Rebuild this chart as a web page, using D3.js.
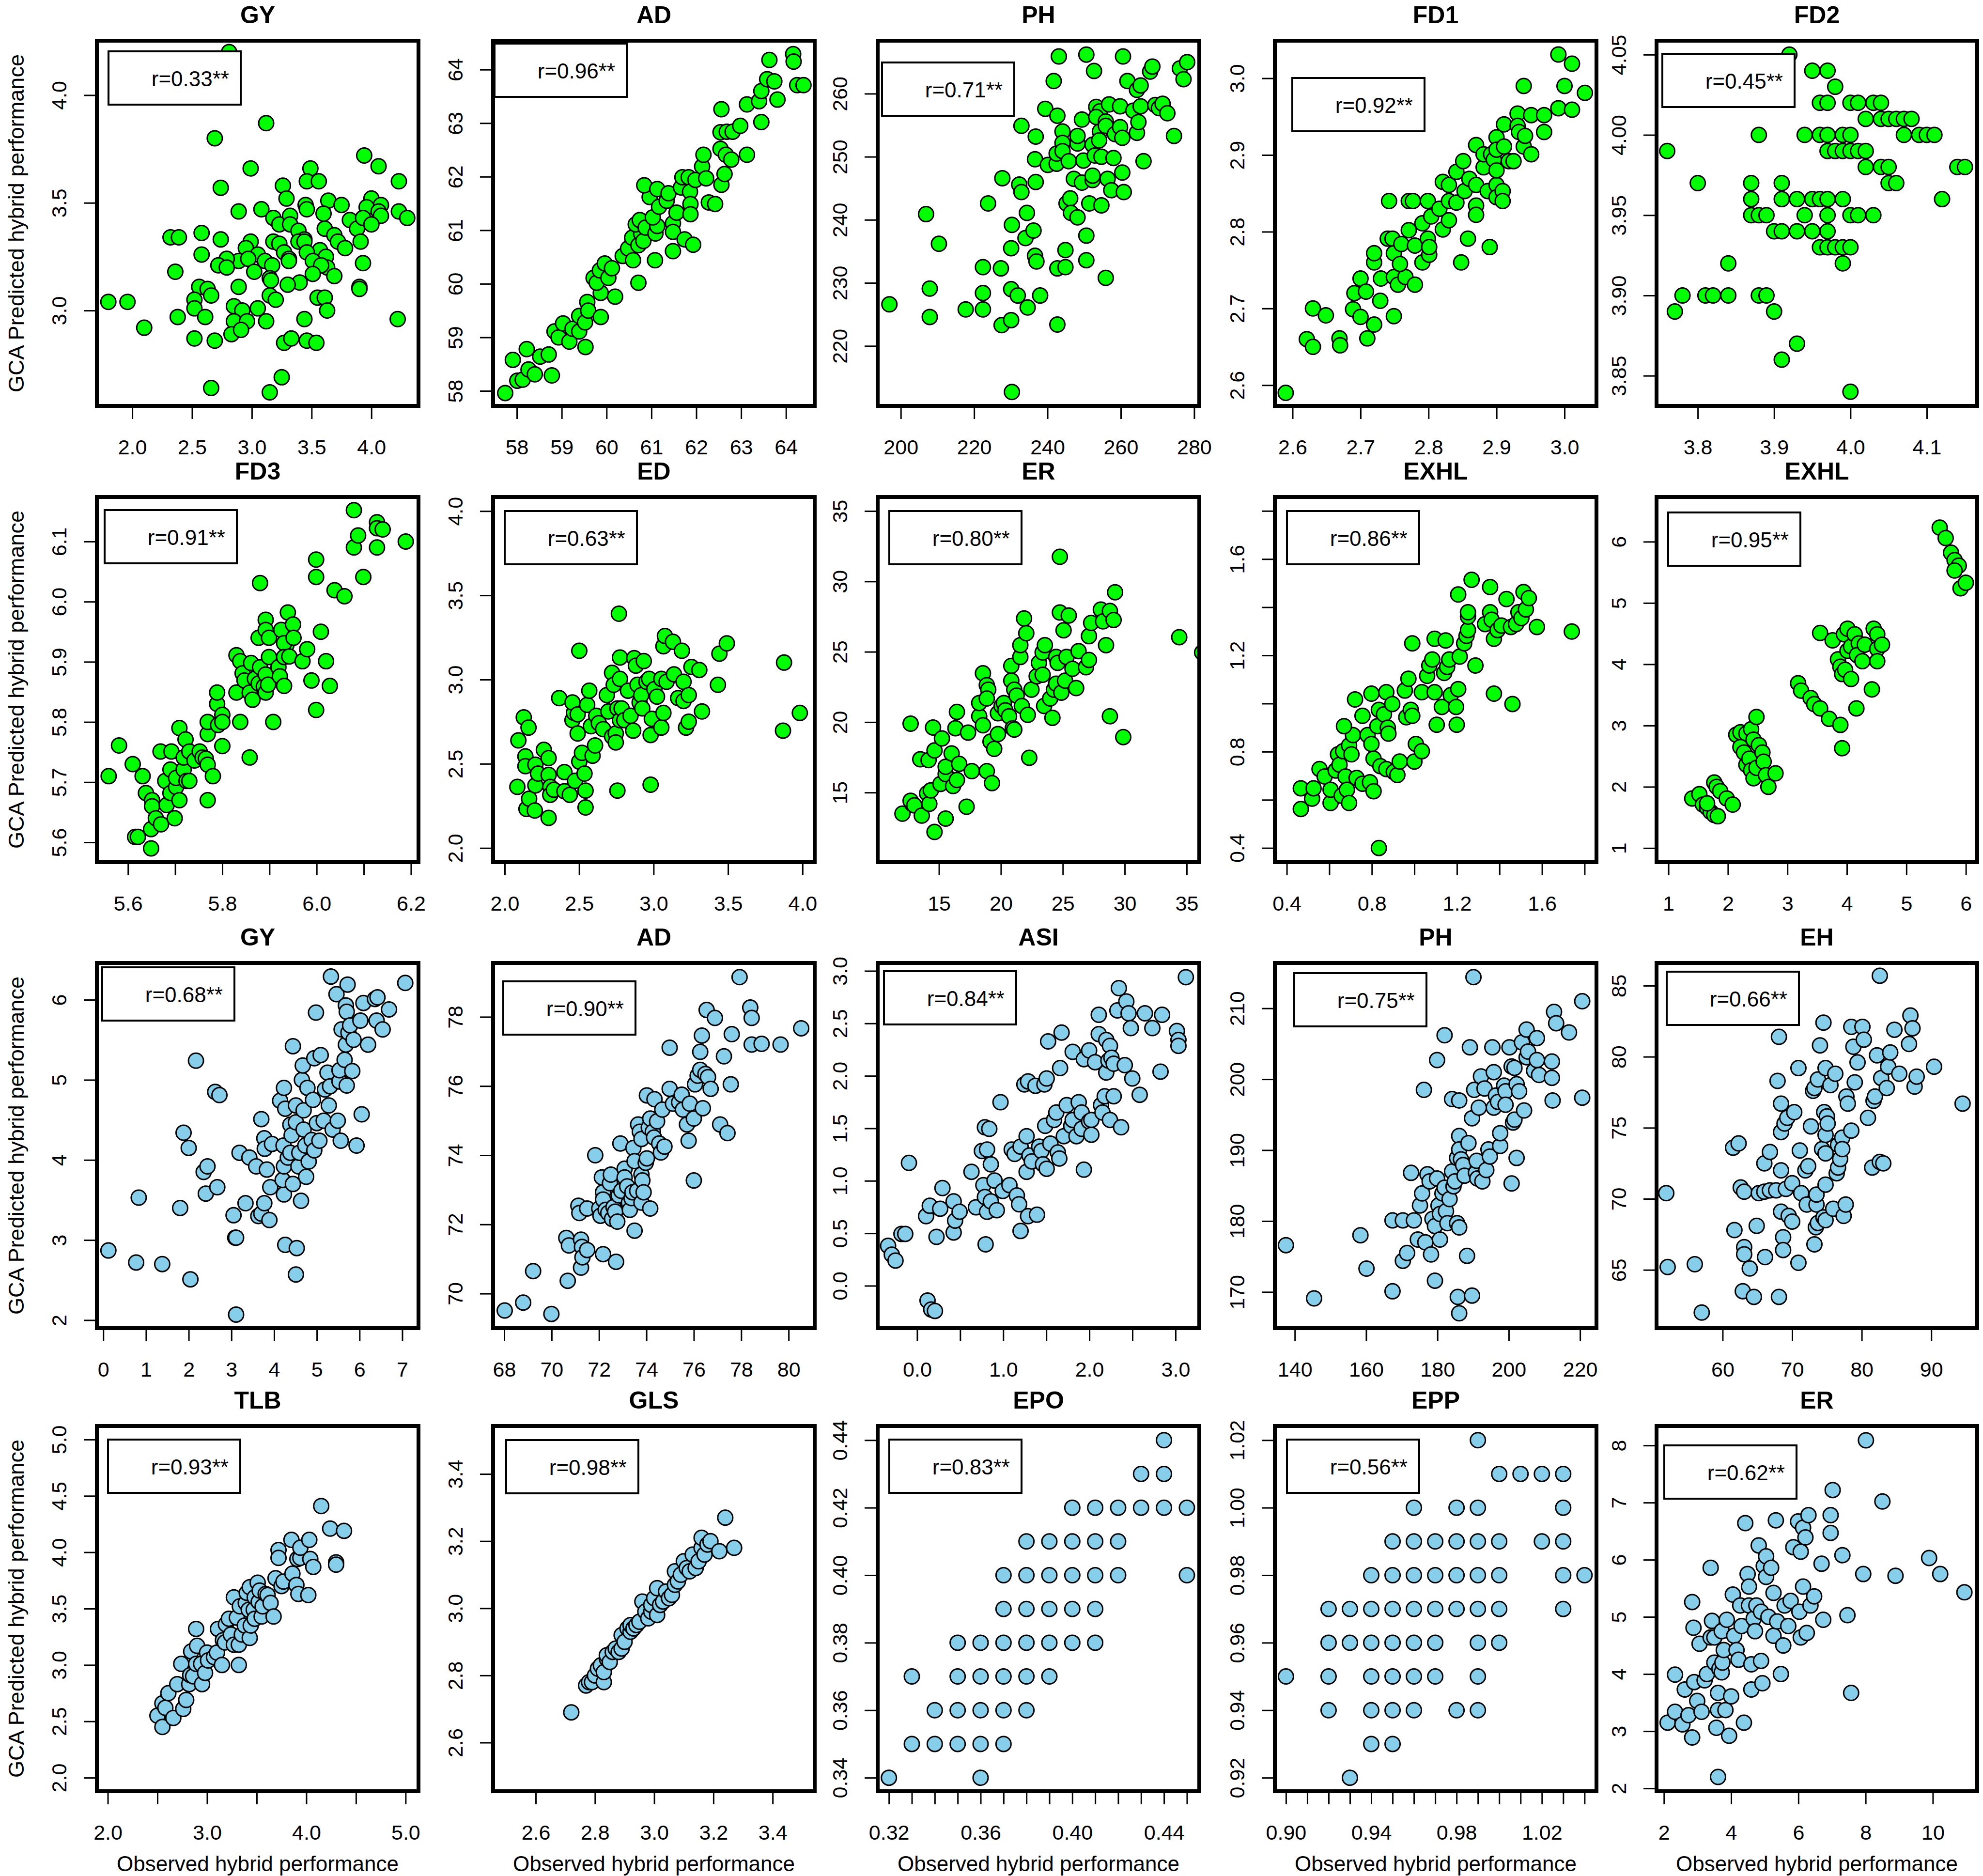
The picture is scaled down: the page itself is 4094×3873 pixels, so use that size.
<!DOCTYPE html>
<html>
<head>
<meta charset="utf-8">
<script src="https://cdn.jsdelivr.net/npm/d3@7"></script>
<style>
  html, body { margin: 0; padding: 0; background: #fff; }
  svg { display: block; font-family: "Liberation Sans", Arial, sans-serif; }
</style>
</head>
<body>
<svg id="chart" width="4094" height="3873"></svg>
<script>
// ---- data: [observed, GCA predicted] pairs, one array per panel ----
const ptsGY1 = [[2.81,4.20],[3.12,3.87],[2.69,3.80],[3.94,3.72],[4.06,3.67],[2.99,3.66],[3.49,3.66],[3.46,3.60],[3.56,3.60],[4.23,3.60],[2.74,3.57],[3.26,3.58],[3.29,3.52],[3.64,3.51],[3.75,3.49],[3.45,3.49],[3.46,3.47],[4.00,3.52],[4.08,3.49],[3.96,3.48],[4.06,3.46],[4.08,3.44],[4.23,3.46],[4.30,3.43],[2.89,3.46],[3.08,3.47],[3.60,3.45],[3.18,3.43],[3.23,3.40],[3.32,3.44],[3.32,3.40],[3.82,3.42],[3.88,3.38],[3.93,3.43],[4.00,3.40],[3.61,3.38],[3.39,3.37],[2.32,3.34],[2.39,3.34],[2.58,3.36],[2.74,3.33],[3.69,3.35],[3.72,3.32],[3.44,3.33],[3.39,3.32],[3.44,3.32],[3.18,3.32],[3.23,3.31],[3.91,3.32],[2.99,3.32],[3.78,3.29],[2.95,3.29],[3.27,3.27],[3.31,3.24],[3.57,3.28],[3.62,3.25],[3.46,3.27],[2.58,3.26],[3.05,3.26],[3.11,3.23],[2.89,3.23],[2.79,3.24],[2.72,3.21],[2.79,3.20],[2.97,3.24],[3.31,3.23],[3.51,3.23],[3.93,3.22],[3.17,3.21],[3.63,3.20],[3.58,3.21],[3.02,3.18],[2.36,3.18],[3.51,3.17],[3.69,3.16],[3.15,3.15],[3.16,3.14],[3.40,3.13],[3.30,3.12],[2.56,3.11],[2.89,3.11],[2.63,3.10],[2.66,3.07],[3.90,3.11],[3.90,3.10],[2.52,3.05],[2.52,3.01],[3.15,3.07],[3.20,3.05],[3.55,3.06],[3.61,3.06],[1.80,3.04],[1.96,3.04],[3.63,3.00],[3.05,3.01],[2.85,3.02],[2.92,3.00],[2.61,2.97],[2.38,2.97],[2.85,2.95],[2.96,2.95],[3.12,2.95],[3.44,2.96],[4.22,2.96],[2.10,2.92],[2.83,2.89],[2.91,2.91],[2.52,2.87],[2.69,2.86],[3.27,2.85],[3.33,2.87],[3.46,2.86],[3.54,2.85],[3.25,2.69],[2.66,2.64],[3.15,2.62]];
const ptsAD1 = [[57.74,57.96],[57.91,58.58],[58.01,58.19],[58.13,58.21],[58.22,58.78],[58.26,58.40],[58.40,58.31],[58.52,58.64],[58.71,58.68],[58.78,58.29],[58.84,59.11],[58.93,59.00],[59.03,59.26],[59.17,58.92],[59.24,59.16],[59.39,59.11],[59.39,59.40],[59.52,59.28],[59.53,58.82],[59.57,59.66],[59.59,59.50],[59.87,59.38],[59.87,59.83],[59.71,60.11],[59.78,60.02],[59.85,60.25],[59.96,60.38],[60.04,60.11],[60.12,60.29],[60.19,59.76],[60.36,60.52],[60.48,60.66],[60.59,60.44],[60.71,60.02],[60.57,60.86],[60.71,60.72],[60.77,60.94],[60.65,61.11],[60.82,60.80],[60.74,61.19],[60.87,61.05],[61.08,60.44],[61.09,60.94],[61.13,61.08],[61.03,61.24],[60.96,61.62],[60.84,61.84],[61.13,61.77],[61.17,61.44],[61.34,61.55],[61.38,61.69],[61.48,61.13],[61.48,60.97],[61.48,60.61],[61.56,61.33],[61.74,60.83],[61.66,61.80],[61.69,61.99],[61.83,61.99],[61.86,61.72],[61.87,61.49],[61.87,61.30],[61.93,60.73],[61.98,61.94],[62.13,62.19],[62.16,62.41],[62.22,61.97],[62.28,61.52],[62.42,61.49],[62.54,62.52],[62.56,61.85],[62.63,62.05],[62.66,62.41],[62.78,62.32],[62.54,62.83],[62.68,62.84],[62.81,62.84],[62.98,62.95],[63.13,62.41],[62.56,63.26],[63.13,63.35],[63.40,63.41],[63.45,63.60],[63.45,63.02],[63.58,63.82],[63.74,63.78],[63.81,63.44],[63.63,64.18],[64.16,64.29],[64.17,64.15],[64.25,63.71],[64.39,63.71]];
const ptsPH1 = [[196.9,226.6],[206.9,240.9],[207.9,229.1],[207.9,224.6],[210.4,236.2],[217.7,225.8],[222.4,225.8],[222.4,228.4],[222.4,232.5],[223.8,242.6],[227.3,232.3],[227.5,223.3],[227.7,246.6],[230.1,229.0],[230.1,224.1],[231.9,228.0],[230.1,235.5],[230.3,239.2],[230.3,212.7],[232.3,245.6],[232.9,244.4],[232.9,254.9],[234.6,226.1],[234.0,237.1],[234.4,241.1],[236.2,238.3],[236.6,234.3],[237.0,233.4],[236.8,253.2],[236.8,246.0],[236.6,249.6],[238.0,228.0],[239.4,257.6],[240.1,248.7],[241.7,262.0],[242.5,248.9],[242.5,250.5],[242.7,256.5],[242.7,232.3],[242.7,223.4],[243.1,265.9],[244.1,254.0],[244.1,252.2],[244.1,250.9],[244.9,235.2],[244.9,232.5],[245.2,242.6],[246.2,243.4],[246.4,241.1],[245.8,249.3],[247.2,246.5],[248.2,240.4],[248.2,252.1],[248.2,253.3],[249.4,255.9],[249.8,249.4],[249.4,245.9],[250.6,266.2],[250.6,237.5],[250.6,233.6],[251.4,242.6],[252.3,251.9],[252.9,250.2],[252.3,246.3],[252.3,247.0],[252.7,263.6],[253.3,257.9],[254.3,257.2],[253.3,256.3],[254.3,254.0],[254.1,252.6],[254.7,242.3],[254.7,250.0],[255.9,230.8],[255.9,255.6],[255.9,254.9],[256.4,246.5],[257.4,244.7],[256.8,258.3],[258.0,249.8],[258.4,253.6],[259.8,254.7],[260.4,253.0],[259.8,258.0],[260.6,265.9],[260.4,247.5],[260.8,244.4],[261.8,262.0],[263.4,257.3],[264.4,260.6],[264.4,253.8],[264.8,255.5],[265.4,261.3],[265.4,258.0],[266.2,249.3],[268.0,263.5],[268.6,264.3],[269.4,258.2],[270.4,257.7],[271.4,258.4],[272.7,256.9],[274.5,253.3],[276.1,264.0],[277.1,262.3],[278.1,265.0]];
const ptsFD1 = [[2.590,2.590],[2.621,2.660],[2.630,2.650],[2.630,2.700],[2.649,2.691],[2.669,2.661],[2.670,2.652],[2.689,2.699],[2.691,2.720],[2.700,2.739],[2.700,2.689],[2.708,2.722],[2.710,2.661],[2.720,2.679],[2.729,2.710],[2.730,2.739],[2.720,2.760],[2.720,2.772],[2.740,2.791],[2.747,2.791],[2.742,2.840],[2.771,2.840],[2.777,2.840],[2.749,2.690],[2.749,2.741],[2.755,2.731],[2.766,2.741],[2.780,2.731],[2.749,2.772],[2.758,2.758],[2.760,2.784],[2.771,2.802],[2.780,2.782],[2.791,2.760],[2.791,2.811],[2.799,2.791],[2.799,2.840],[2.804,2.820],[2.801,2.770],[2.801,2.780],[2.816,2.830],[2.821,2.803],[2.821,2.865],[2.830,2.840],[2.830,2.815],[2.830,2.861],[2.841,2.878],[2.841,2.838],[2.851,2.892],[2.848,2.760],[2.858,2.791],[2.853,2.853],[2.860,2.869],[2.870,2.913],[2.870,2.861],[2.870,2.834],[2.870,2.822],[2.881,2.884],[2.881,2.901],[2.887,2.853],[2.890,2.780],[2.892,2.901],[2.896,2.894],[2.900,2.861],[2.900,2.845],[2.900,2.923],[2.900,2.907],[2.900,2.880],[2.909,2.853],[2.909,2.840],[2.911,2.940],[2.911,2.911],[2.918,2.892],[2.925,2.892],[2.931,2.954],[2.931,2.938],[2.933,2.930],[2.940,2.911],[2.940,2.990],[2.942,2.925],[2.951,2.952],[2.951,2.901],[2.970,2.952],[2.970,2.930],[2.991,3.031],[2.991,2.961],[3.000,2.990],[3.011,3.019],[3.011,2.959],[3.030,2.981]];
const ptsFD2 = [[3.76,3.99],[3.77,3.89],[3.78,3.90],[3.80,3.97],[3.81,3.90],[3.82,3.90],[3.84,3.90],[3.84,3.92],[3.87,3.97],[3.87,3.96],[3.87,3.95],[3.88,3.95],[3.89,3.95],[3.88,4.00],[3.88,3.90],[3.89,3.90],[3.90,3.89],[3.90,3.94],[3.91,3.94],[3.91,3.97],[3.91,3.96],[3.92,4.05],[3.91,3.86],[3.93,3.87],[3.93,3.96],[3.95,3.96],[3.96,3.96],[3.97,3.96],[3.99,3.96],[3.93,3.94],[3.95,3.94],[3.97,3.94],[3.94,3.95],[3.97,3.95],[3.94,4.00],[3.96,4.00],[3.97,4.00],[3.99,4.00],[4.00,4.00],[3.95,4.04],[3.97,4.04],[3.98,4.03],[3.96,4.02],[3.97,4.02],[3.97,3.99],[3.98,3.99],[3.99,3.99],[4.00,3.99],[4.01,3.99],[4.02,3.99],[3.96,3.93],[3.97,3.93],[3.98,3.93],[3.99,3.93],[4.00,3.93],[3.99,3.92],[4.00,4.02],[4.01,4.02],[4.03,4.02],[4.04,4.02],[4.00,3.95],[4.01,3.95],[4.03,3.95],[4.00,3.84],[4.02,3.98],[4.04,3.98],[4.05,3.98],[4.02,4.01],[4.04,4.01],[4.05,4.01],[4.06,4.01],[4.07,4.01],[4.08,4.01],[4.05,3.97],[4.06,3.97],[4.07,4.00],[4.09,4.00],[4.10,4.00],[4.11,4.00],[4.12,3.96],[4.14,3.98],[4.15,3.98]];
const ptsFD3 = [[5.559,5.710],[5.581,5.761],[5.610,5.730],[5.631,5.710],[5.615,5.609],[5.621,5.609],[5.638,5.682],[5.649,5.622],[5.649,5.590],[5.651,5.670],[5.651,5.660],[5.659,5.640],[5.670,5.630],[5.669,5.751],[5.679,5.702],[5.682,5.662],[5.690,5.682],[5.690,5.721],[5.692,5.751],[5.699,5.640],[5.702,5.692],[5.702,5.707],[5.709,5.670],[5.709,5.790],[5.718,5.721],[5.718,5.741],[5.722,5.771],[5.730,5.751],[5.724,5.702],[5.730,5.702],[5.741,5.736],[5.752,5.751],[5.758,5.741],[5.765,5.739],[5.769,5.780],[5.769,5.800],[5.769,5.729],[5.769,5.670],[5.780,5.710],[5.789,5.830],[5.789,5.849],[5.791,5.795],[5.800,5.812],[5.800,5.800],[5.800,5.760],[5.830,5.849],[5.830,5.911],[5.838,5.800],[5.838,5.901],[5.843,5.881],[5.847,5.869],[5.858,5.741],[5.858,5.849],[5.864,5.837],[5.861,5.898],[5.869,5.872],[5.877,5.864],[5.877,5.940],[5.880,5.891],[5.880,6.031],[5.892,5.970],[5.892,5.953],[5.888,5.859],[5.892,5.849],[5.892,5.879],[5.897,5.862],[5.899,5.940],[5.899,5.908],[5.908,5.800],[5.919,5.891],[5.922,5.876],[5.925,5.953],[5.936,5.928],[5.931,5.931],[5.931,5.908],[5.931,5.860],[5.939,5.982],[5.942,5.909],[5.950,5.962],[5.951,5.940],[5.970,5.901],[5.980,5.921],[5.989,5.869],[5.999,5.820],[5.999,6.070],[5.999,6.041],[6.009,5.950],[6.020,5.901],[6.028,5.860],[6.038,6.019],[6.059,6.009],[6.079,6.152],[6.079,6.090],[6.088,6.110],[6.099,6.041],[6.128,6.132],[6.128,6.122],[6.140,6.120],[6.128,6.090],[6.189,6.100]];
const ptsED = [[2.092,2.639],[2.128,2.776],[2.160,2.715],[2.085,2.363],[2.139,2.544],[2.139,2.486],[2.146,2.232],[2.164,2.293],[2.202,2.223],[2.206,2.495],[2.206,2.372],[2.224,2.442],[2.263,2.583],[2.295,2.534],[2.295,2.434],[2.306,2.363],[2.306,2.316],[2.295,2.179],[2.330,2.346],[2.366,2.890],[2.401,2.451],[2.401,2.337],[2.437,2.316],[2.455,2.759],[2.465,2.803],[2.455,2.864],[2.472,2.399],[2.490,2.680],[2.490,2.794],[2.501,3.171],[2.501,2.513],[2.519,2.565],[2.536,2.442],[2.543,2.341],[2.543,2.241],[2.554,2.850],[2.568,2.934],[2.579,2.723],[2.590,2.548],[2.607,2.609],[2.615,2.785],[2.632,2.741],[2.661,2.706],[2.686,2.908],[2.696,2.811],[2.721,3.040],[2.732,2.969],[2.721,2.662],[2.746,2.680],[2.746,2.627],[2.757,2.829],[2.774,2.759],[2.767,3.391],[2.757,2.341],[2.774,3.131],[2.774,3.004],[2.785,2.829],[2.803,2.759],[2.828,2.934],[2.845,2.785],[2.863,2.697],[2.870,3.127],[2.881,3.083],[2.892,2.969],[2.906,2.864],[2.917,2.908],[2.924,2.829],[2.934,3.110],[2.952,2.987],[2.970,3.004],[2.988,2.767],[2.980,2.671],[2.980,2.376],[3.005,2.943],[3.023,2.899],[3.052,3.004],[3.052,2.715],[3.066,2.802],[3.066,3.198],[3.076,3.259],[3.087,2.987],[3.130,3.224],[3.137,3.031],[3.165,2.890],[3.201,2.873],[3.190,3.171],[3.201,2.987],[3.218,2.715],[3.236,2.750],[3.236,2.908],[3.254,3.075],[3.307,3.057],[3.325,2.811],[3.432,2.969],[3.442,3.154],[3.492,3.215],[3.876,3.101],[3.869,2.697],[3.982,2.802]];
const ptsER1 = [[12.05,13.50],[12.83,14.20],[12.71,14.41],[13.01,14.09],[12.71,19.89],[13.61,13.36],[13.49,17.36],[14.16,17.30],[14.04,14.94],[14.22,14.20],[14.34,15.15],[14.64,12.20],[14.52,19.62],[14.64,17.99],[15.12,15.61],[15.24,18.84],[15.54,13.15],[15.54,16.31],[15.54,16.83],[16.02,17.78],[16.14,15.46],[16.33,19.57],[16.45,20.73],[16.45,15.89],[16.63,17.04],[17.23,13.99],[17.35,19.26],[17.65,16.52],[18.25,20.42],[18.25,21.36],[18.55,19.78],[18.55,23.47],[18.86,16.52],[18.86,22.63],[18.98,22.31],[18.86,21.68],[19.16,18.62],[19.28,15.67],[19.46,18.10],[19.76,20.63],[20.06,21.15],[19.76,19.15],[20.24,21.36],[20.36,20.84],[20.66,20.42],[20.96,19.57],[20.84,24.00],[21.08,19.47],[20.84,22.95],[21.08,22.31],[21.27,21.89],[21.57,24.63],[21.57,25.47],[21.69,21.15],[21.87,27.37],[22.05,26.32],[22.17,20.52],[22.29,17.47],[22.47,22.31],[22.89,23.26],[23.07,24.21],[23.37,24.95],[23.55,25.47],[23.37,23.37],[23.49,21.15],[23.98,21.68],[24.16,20.31],[24.28,22.31],[24.46,22.73],[24.46,24.63],[24.58,24.21],[24.76,31.75],[24.76,27.79],[24.88,22.10],[25.06,26.53],[25.18,22.95],[25.30,24.63],[25.48,27.58],[25.78,23.79],[26.08,22.42],[26.27,25.05],[26.87,23.90],[27.11,24.42],[27.11,26.11],[27.29,27.05],[28.07,28.00],[28.25,27.16],[28.49,25.47],[28.80,20.42],[28.80,27.90],[29.10,27.26],[29.22,29.23],[29.88,18.94],[34.40,26.04],[36.25,24.95]];
const ptsEXHL1 = [[0.466,0.562],[0.466,0.648],[0.519,0.605],[0.526,0.648],[0.554,0.728],[0.578,0.697],[0.606,0.587],[0.606,0.642],[0.630,0.722],[0.641,0.789],[0.648,0.746],[0.658,0.617],[0.676,0.697],[0.683,0.642],[0.693,0.587],[0.665,0.802],[0.693,0.826],[0.704,0.789],[0.711,0.869],[0.669,0.906],[0.728,0.691],[0.721,1.017],[0.756,0.949],[0.756,0.667],[0.780,0.869],[0.791,0.673],[0.808,0.636],[0.798,0.832],[0.798,1.041],[0.808,0.771],[0.826,0.906],[0.833,0.974],[0.840,0.740],[0.857,0.955],[0.868,0.728],[0.868,1.047],[0.875,0.900],[0.878,0.875],[0.896,0.998],[0.903,0.716],[0.920,0.703],[0.931,0.759],[0.955,1.054],[0.962,0.943],[0.983,0.974],[0.990,0.949],[0.972,1.103],[0.990,1.250],[1.000,0.759],[1.007,0.832],[1.035,0.802],[1.035,1.047],[1.060,1.115],[1.070,1.158],[1.084,1.183],[1.095,1.269],[1.095,1.047],[1.105,0.912],[1.129,0.986],[1.140,1.127],[1.154,1.152],[1.147,1.262],[1.164,1.183],[1.171,1.035],[1.196,0.986],[1.199,0.912],[1.206,1.060],[1.213,1.195],[1.206,1.453],[1.234,1.250],[1.245,1.281],[1.252,1.305],[1.252,1.361],[1.252,1.379],[1.269,1.514],[1.287,1.158],[1.332,1.330],[1.356,1.379],[1.363,1.348],[1.356,1.484],[1.374,1.041],[1.374,1.269],[1.391,1.305],[1.409,1.324],[1.433,1.434],[1.454,1.318],[1.478,1.330],[1.461,0.998],[1.489,1.379],[1.503,1.355],[1.513,1.463],[1.524,1.391],[1.538,1.438],[1.576,1.318],[1.740,1.299],[0.833,0.400]];
const ptsEXHL2 = [[1.40,1.81],[1.52,1.88],[1.58,1.71],[1.65,1.66],[1.71,1.59],[1.77,1.54],[1.83,1.52],[1.77,2.07],[1.81,2.00],[1.87,1.93],[1.65,1.73],[1.98,1.81],[2.08,1.71],[2.14,2.85],[2.21,2.89],[2.31,2.87],[2.21,2.65],[2.27,2.56],[2.31,2.36],[2.36,2.46],[2.39,2.27],[2.43,2.14],[2.48,2.31],[2.39,2.94],[2.48,3.14],[2.43,2.77],[2.52,2.68],[2.58,2.56],[2.60,2.41],[2.64,2.19],[2.68,2.00],[2.80,2.22],[3.18,3.69],[3.23,3.57],[3.39,3.45],[3.45,3.35],[3.55,3.28],[3.55,4.51],[3.70,3.11],[3.76,4.39],[3.85,4.08],[3.89,3.96],[3.92,3.84],[3.97,3.91],[3.89,3.01],[3.92,2.63],[3.95,4.49],[4.01,4.58],[4.01,4.22],[4.07,4.29],[4.07,3.76],[4.13,4.49],[4.20,4.34],[4.17,4.15],[4.26,4.05],[4.30,4.32],[4.16,3.28],[4.42,3.59],[4.45,4.58],[4.51,4.49],[4.51,4.25],[4.51,4.05],[4.59,4.32],[5.56,6.23],[5.66,6.06],[5.75,5.82],[5.81,5.70],[5.88,5.61],[5.81,5.53],[5.91,5.24],[6.00,5.33]];
const ptsGY2 = [[0.12,2.87],[0.77,2.72],[1.38,2.70],[0.83,3.53],[1.80,3.40],[2.04,2.51],[1.88,4.34],[2.00,4.15],[2.17,5.24],[2.35,3.85],[2.44,3.92],[2.40,3.58],[2.67,3.66],[2.62,4.85],[2.72,4.81],[3.05,3.31],[3.09,3.03],[3.11,3.03],[3.11,2.07],[3.19,4.09],[3.33,3.46],[3.42,4.03],[3.58,3.92],[3.63,3.30],[3.70,3.33],[3.70,4.51],[3.77,4.27],[3.78,4.14],[3.77,3.46],[3.83,3.88],[3.89,3.25],[3.91,3.66],[3.95,4.20],[4.14,4.74],[4.23,4.90],[4.22,4.18],[4.23,3.57],[4.26,4.64],[4.26,2.94],[4.20,3.75],[4.23,3.92],[4.32,4.03],[4.38,4.09],[4.38,4.44],[4.41,4.31],[4.44,5.42],[4.44,3.70],[4.51,2.57],[4.53,2.90],[4.51,4.68],[4.51,4.47],[4.57,3.92],[4.59,4.09],[4.63,3.49],[4.65,5.00],[4.67,5.18],[4.69,4.62],[4.69,4.38],[4.73,4.18],[4.75,3.79],[4.78,4.90],[4.81,3.98],[4.88,4.25],[4.94,4.12],[4.91,4.75],[4.94,5.27],[4.98,5.84],[5.00,4.46],[5.06,4.24],[5.09,5.31],[5.16,4.49],[5.19,4.88],[5.25,5.09],[5.28,4.68],[5.31,4.92],[5.37,4.38],[5.33,6.29],[5.46,6.07],[5.49,4.49],[5.56,4.24],[5.53,4.98],[5.53,5.12],[5.58,5.63],[5.65,5.25],[5.68,5.44],[5.68,5.93],[5.70,5.85],[5.72,6.19],[5.70,4.93],[5.74,5.59],[5.78,5.68],[5.83,5.11],[5.86,5.50],[5.93,4.18],[6.05,4.57],[6.02,5.74],[6.09,5.96],[6.20,5.44],[6.36,6.01],[6.42,6.03],[6.40,5.74],[6.54,5.63],[6.69,5.88],[7.07,6.21]];
const ptsAD2 = [[68.02,69.51],[68.80,69.74],[69.22,70.65],[69.99,69.41],[70.68,70.37],[70.62,71.61],[70.73,71.39],[71.13,72.54],[71.17,72.33],[71.24,71.56],[71.28,71.35],[71.24,70.75],[71.30,71.05],[71.50,71.26],[71.50,72.46],[71.84,74.00],[72.01,72.46],[72.06,72.25],[72.12,73.36],[72.17,72.93],[72.17,72.72],[72.17,71.14],[72.28,72.42],[72.39,72.33],[72.46,73.19],[72.50,73.44],[72.55,72.16],[72.61,72.50],[72.68,72.37],[72.72,70.92],[72.77,72.08],[72.83,72.84],[72.94,72.97],[72.90,74.34],[73.08,73.61],[73.08,73.36],[73.19,73.10],[73.26,72.63],[73.30,72.42],[73.37,72.76],[73.41,72.93],[73.45,74.21],[73.50,73.83],[73.50,71.82],[73.61,72.97],[73.65,74.89],[73.72,74.68],[73.79,74.47],[73.79,73.44],[73.83,73.27],[73.79,72.63],[73.88,72.93],[73.97,73.78],[74.02,73.91],[74.02,75.73],[74.10,74.80],[74.16,75.06],[74.16,72.46],[74.27,74.68],[74.32,74.51],[74.34,75.62],[74.45,74.98],[74.54,74.34],[74.61,74.08],[74.67,75.32],[74.76,74.25],[74.98,75.92],[75.12,75.49],[74.98,77.11],[75.38,75.53],[75.49,75.75],[75.54,75.32],[75.71,74.89],[75.78,74.42],[75.83,75.49],[76.00,75.06],[76.05,76.05],[76.00,73.27],[76.16,76.30],[76.27,76.47],[76.27,76.99],[76.34,77.46],[76.38,75.36],[76.49,76.35],[76.60,76.26],[76.54,78.20],[76.71,75.92],[76.89,77.97],[77.11,74.89],[77.42,74.64],[77.27,76.86],[77.56,76.05],[77.60,77.50],[77.93,79.15],[78.38,78.27],[78.44,77.97],[78.44,77.20],[78.86,77.22],[79.66,77.20],[80.53,77.67]];
const ptsASI = [[-0.337,0.381],[-0.294,0.296],[-0.251,0.240],[-0.182,0.494],[-0.138,0.494],[-0.095,1.171],[0.104,0.663],[0.147,0.762],[0.121,-0.141],[0.164,-0.226],[0.207,-0.240],[0.225,0.466],[0.268,0.734],[0.294,0.931],[0.424,0.508],[0.441,0.621],[0.424,0.804],[0.493,0.705],[0.631,1.086],[0.683,0.748],[0.752,1.284],[0.769,0.959],[0.787,1.510],[0.838,1.495],[0.795,0.395],[0.812,1.298],[0.812,0.705],[0.787,0.846],[0.856,1.157],[0.856,0.804],[0.899,1.002],[0.925,0.720],[0.968,1.749],[0.994,0.903],[1.072,0.959],[1.098,1.298],[1.132,1.256],[1.158,0.861],[1.184,0.776],[1.201,1.326],[1.201,0.522],[1.245,1.919],[1.288,1.947],[1.271,1.425],[1.271,1.086],[1.288,0.663],[1.305,1.241],[1.331,1.185],[1.374,1.905],[1.392,0.677],[1.417,1.326],[1.443,1.284],[1.461,1.157],[1.478,1.919],[1.504,1.975],[1.487,1.524],[1.504,1.115],[1.521,2.328],[1.547,1.354],[1.590,1.580],[1.616,1.651],[1.634,1.270],[1.651,1.213],[1.660,2.074],[1.677,2.413],[1.703,1.425],[1.737,1.721],[1.789,1.524],[1.806,1.580],[1.806,2.229],[1.850,1.425],[1.876,1.749],[1.910,1.651],[1.910,1.495],[1.936,2.159],[1.936,1.106],[1.997,1.566],[2.023,1.580],[2.023,1.439],[1.997,2.243],[2.066,2.130],[2.109,2.582],[2.109,2.398],[2.135,1.721],[2.152,1.651],[2.178,1.806],[2.196,2.342],[2.239,2.286],[2.196,2.032],[2.221,2.145],[2.256,2.173],[2.239,1.580],[2.282,1.806],[2.282,2.116],[2.325,2.624],[2.342,2.836],[2.368,1.510],[2.411,2.102],[2.429,2.709],[2.455,2.596],[2.481,2.455],[2.498,1.975],[2.584,1.820],[2.645,2.596],[2.731,2.455],[2.826,2.040],[2.844,2.582],[3.016,2.427],[3.034,2.342],[3.034,2.286],[3.120,2.940]];
const ptsPH2 = [[137.5,176.6],[145.4,169.1],[158.4,178.0],[160.1,173.3],[167.4,170.1],[167.4,180.1],[170.3,180.1],[170.3,174.4],[171.5,175.5],[172.6,186.8],[173.4,180.1],[174.5,177.4],[175.1,182.2],[175.7,183.9],[176.2,198.5],[176.6,177.0],[177.2,186.6],[177.8,185.6],[178.2,175.3],[178.6,180.3],[179.3,179.3],[179.3,171.6],[179.9,186.0],[179.9,202.7],[180.3,182.2],[180.7,181.0],[180.7,177.4],[181.4,183.9],[182.0,184.7],[182.0,206.2],[182.4,181.4],[182.8,179.7],[183.4,183.1],[184.1,197.2],[184.1,187.0],[184.5,184.9],[184.9,185.6],[185.5,188.9],[185.5,179.7],[185.7,169.3],[186.1,167.0],[186.1,179.1],[186.1,192.0],[186.1,190.1],[186.6,188.7],[186.1,197.0],[187.2,187.9],[187.6,186.4],[188.3,175.1],[188.7,191.0],[189.1,204.5],[189.7,194.5],[189.7,169.5],[190.1,214.4],[190.3,198.5],[190.8,186.8],[191.2,186.0],[191.0,188.5],[191.6,196.0],[192.2,200.4],[192.6,185.6],[193.2,198.7],[193.7,187.2],[194.3,190.1],[194.7,189.1],[195.4,204.5],[195.8,201.0],[195.8,196.0],[196.4,197.7],[197.0,196.8],[197.6,190.6],[197.6,192.4],[198.7,199.1],[199.1,198.3],[199.1,196.4],[200.2,204.5],[200.8,201.8],[200.8,185.3],[201.2,193.9],[201.6,194.3],[201.6,201.6],[202.2,199.3],[202.2,188.9],[202.9,198.3],[203.7,205.2],[204.3,195.6],[205.0,207.0],[205.0,203.1],[205.4,203.9],[207.1,201.2],[207.9,205.8],[207.9,202.7],[208.5,200.6],[212.1,202.5],[212.1,200.2],[212.3,197.0],[212.7,209.5],[213.3,207.9],[216.9,206.6],[220.6,211.0],[220.6,197.4]];
const ptsEH = [[51.9,70.4],[52.1,65.2],[56.0,65.4],[57.0,62.0],[61.5,73.6],[62.3,73.9],[61.7,67.8],[62.6,70.8],[63.1,70.5],[62.9,63.5],[63.1,66.6],[63.1,66.1],[63.9,65.1],[64.5,63.1],[64.9,68.1],[65.2,70.4],[66.0,70.5],[66.8,70.6],[66.0,72.5],[66.1,65.9],[66.8,73.3],[67.7,70.6],[67.9,78.3],[68.1,81.4],[68.1,63.1],[68.4,76.7],[68.4,74.7],[68.4,72.0],[68.4,69.1],[68.7,67.3],[68.7,66.4],[68.9,75.3],[69.3,75.7],[69.1,70.7],[69.5,68.8],[70.0,68.4],[70.0,71.1],[70.3,76.1],[70.9,65.5],[70.9,79.2],[71.1,73.4],[71.3,70.4],[71.9,72.0],[72.1,69.6],[72.3,72.3],[72.7,75.1],[73.0,77.6],[73.2,77.8],[73.2,66.8],[73.4,68.0],[73.7,68.3],[73.5,69.6],[73.5,70.3],[73.7,78.4],[74.0,80.8],[74.3,73.5],[74.5,82.4],[74.5,68.7],[74.8,68.5],[74.8,71.0],[74.6,76.1],[75.0,75.8],[74.8,74.5],[75.1,75.3],[74.8,79.2],[74.8,73.2],[75.5,78.0],[75.9,69.3],[76.2,78.8],[76.4,71.8],[76.6,72.2],[76.6,73.8],[77.2,74.3],[76.9,72.8],[77.2,73.5],[77.4,68.8],[77.7,69.6],[77.8,77.2],[78.0,76.7],[78.5,74.8],[78.5,82.1],[78.8,80.7],[79.0,78.2],[79.4,79.6],[80.1,82.1],[80.3,81.2],[80.9,75.7],[81.5,72.2],[81.7,76.9],[81.9,77.2],[82.2,80.1],[82.6,85.7],[82.6,72.6],[83.1,72.5],[82.8,78.5],[83.6,77.8],[83.8,79.3],[84.1,80.3],[84.7,81.9],[85.4,78.8],[86.8,80.9],[87.0,82.9],[87.3,82.0],[87.6,77.9],[87.9,78.6],[90.4,79.3],[94.5,76.7]];
const ptsTLB = [[2.50,2.55],[2.55,2.66],[2.55,2.45],[2.58,2.62],[2.61,2.75],[2.66,2.53],[2.70,2.83],[2.74,3.01],[2.76,2.61],[2.79,2.69],[2.82,2.83],[2.83,2.91],[2.84,3.12],[2.86,2.90],[2.89,3.32],[2.89,3.01],[2.90,3.17],[2.94,3.01],[2.95,2.83],[2.98,2.93],[3.00,3.11],[3.01,3.04],[3.07,3.07],[3.10,3.11],[3.11,3.32],[3.15,3.00],[3.16,3.22],[3.18,3.20],[3.19,3.36],[3.22,3.41],[3.24,3.27],[3.27,3.60],[3.27,3.18],[3.30,3.42],[3.32,3.00],[3.32,3.18],[3.33,3.52],[3.35,3.27],[3.38,3.35],[3.39,3.55],[3.40,3.64],[3.43,3.69],[3.42,3.49],[3.43,3.24],[3.44,3.35],[3.47,3.49],[3.48,3.41],[3.48,3.60],[3.51,3.73],[3.52,3.56],[3.53,3.66],[3.55,3.43],[3.56,3.52],[3.59,3.63],[3.61,3.62],[3.64,3.55],[3.67,3.43],[3.69,3.77],[3.72,4.02],[3.72,3.95],[3.75,3.70],[3.77,3.74],[3.85,4.11],[3.86,3.81],[3.90,3.71],[3.91,3.94],[3.94,3.95],[3.92,3.63],[3.94,4.04],[4.02,3.62],[4.03,4.11],[4.04,3.94],[4.07,3.87],[4.15,4.41],[4.24,4.21],[4.30,3.91],[4.30,3.89],[4.38,4.19]];
const ptsGLS = [[2.72,2.69],[2.77,2.77],[2.78,2.78],[2.79,2.78],[2.80,2.80],[2.81,2.82],[2.82,2.83],[2.83,2.78],[2.83,2.81],[2.84,2.85],[2.84,2.86],[2.85,2.84],[2.86,2.87],[2.87,2.88],[2.88,2.87],[2.89,2.88],[2.89,2.92],[2.90,2.90],[2.91,2.94],[2.92,2.93],[2.92,2.95],[2.93,2.94],[2.94,2.95],[2.95,2.96],[2.96,3.02],[2.97,2.99],[2.98,2.97],[2.99,2.99],[2.99,3.01],[3.00,3.03],[3.01,3.06],[3.01,2.98],[3.02,3.01],[3.03,3.02],[3.04,3.05],[3.05,3.03],[3.06,3.04],[3.07,3.07],[3.07,3.11],[3.08,3.08],[3.09,3.10],[3.10,3.14],[3.11,3.12],[3.12,3.11],[3.13,3.16],[3.14,3.12],[3.15,3.14],[3.16,3.18],[3.16,3.21],[3.17,3.16],[3.18,3.19],[3.19,3.20],[3.22,3.17],[3.24,3.27],[3.27,3.18]];
const ptsEPO = [[0.44,0.44],[0.43,0.43],[0.44,0.43],[0.40,0.42],[0.41,0.42],[0.42,0.42],[0.43,0.42],[0.44,0.42],[0.45,0.42],[0.38,0.41],[0.39,0.41],[0.40,0.41],[0.41,0.41],[0.42,0.41],[0.37,0.40],[0.38,0.40],[0.39,0.40],[0.40,0.40],[0.41,0.40],[0.42,0.40],[0.45,0.40],[0.37,0.39],[0.38,0.39],[0.39,0.39],[0.40,0.39],[0.41,0.39],[0.35,0.38],[0.36,0.38],[0.37,0.38],[0.38,0.38],[0.39,0.38],[0.40,0.38],[0.41,0.38],[0.33,0.37],[0.35,0.37],[0.36,0.37],[0.37,0.37],[0.38,0.37],[0.39,0.37],[0.34,0.36],[0.35,0.36],[0.36,0.36],[0.37,0.36],[0.38,0.36],[0.33,0.35],[0.34,0.35],[0.35,0.35],[0.36,0.35],[0.37,0.35],[0.32,0.34],[0.36,0.34]];
const ptsEPP = [[0.99,1.02],[1.00,1.01],[1.01,1.01],[1.02,1.01],[1.03,1.01],[0.96,1.00],[0.98,1.00],[0.99,1.00],[1.03,1.00],[0.95,0.99],[0.96,0.99],[0.97,0.99],[0.98,0.99],[0.99,0.99],[1.00,0.99],[1.02,0.99],[1.03,0.99],[0.94,0.98],[0.95,0.98],[0.96,0.98],[0.97,0.98],[0.98,0.98],[0.99,0.98],[1.00,0.98],[1.03,0.98],[1.04,0.98],[0.92,0.97],[0.93,0.97],[0.94,0.97],[0.95,0.97],[0.96,0.97],[0.97,0.97],[0.98,0.97],[0.99,0.97],[1.00,0.97],[1.03,0.97],[0.92,0.96],[0.93,0.96],[0.94,0.96],[0.95,0.96],[0.96,0.96],[0.97,0.96],[0.99,0.96],[1.00,0.96],[0.90,0.95],[0.92,0.95],[0.94,0.95],[0.95,0.95],[0.96,0.95],[0.97,0.95],[0.99,0.95],[0.92,0.94],[0.94,0.94],[0.95,0.94],[0.96,0.94],[0.98,0.94],[0.99,0.94],[0.94,0.93],[0.95,0.93],[0.93,0.92]];
const ptsER2 = [[2.11,3.15],[2.33,3.34],[2.33,3.99],[2.55,3.12],[2.62,3.73],[2.73,3.28],[2.84,2.89],[2.84,5.26],[2.88,4.81],[2.90,3.86],[2.99,3.53],[3.06,4.53],[3.12,3.34],[3.21,3.89],[3.28,4.00],[3.39,4.64],[3.39,5.86],[3.43,4.93],[3.50,4.20],[3.50,4.64],[3.56,3.06],[3.61,2.20],[3.61,3.37],[3.61,3.67],[3.65,4.09],[3.72,4.03],[3.74,4.20],[3.72,4.75],[3.78,4.42],[3.83,3.37],[3.87,4.95],[3.94,2.92],[4.00,3.61],[4.05,5.39],[4.09,4.67],[4.16,4.42],[4.22,4.25],[4.27,5.20],[4.31,4.84],[4.38,3.15],[4.42,6.64],[4.49,5.75],[4.53,5.53],[4.53,5.20],[4.60,4.17],[4.60,3.73],[4.67,4.97],[4.71,4.75],[4.75,5.20],[4.82,6.25],[4.89,5.09],[4.89,4.23],[4.93,3.84],[4.97,5.89],[5.04,6.06],[5.04,5.70],[5.11,5.00],[5.19,5.86],[5.26,5.42],[5.26,4.67],[5.33,6.69],[5.37,4.92],[5.48,4.00],[5.55,4.50],[5.59,5.20],[5.70,4.84],[5.77,5.28],[5.85,6.22],[5.99,6.67],[6.03,5.09],[6.07,4.64],[6.07,6.14],[6.14,6.56],[6.21,6.39],[6.14,5.53],[6.25,4.72],[6.30,6.78],[6.36,5.20],[6.47,5.36],[6.69,5.93],[6.74,4.95],[6.96,6.47],[6.96,6.78],[7.02,7.22],[7.31,6.08],[7.46,5.03],[7.57,3.67],[7.93,5.75],[8.01,8.09],[8.50,7.02],[8.89,5.72],[9.89,6.03],[10.22,5.75],[10.94,5.43]];

const panelPoints = [ptsGY1, ptsAD1, ptsPH1, ptsFD1, ptsFD2,
                     ptsFD3, ptsED, ptsER1, ptsEXHL1, ptsEXHL2,
                     ptsGY2, ptsAD2, ptsASI, ptsPH2, ptsEH,
                     ptsTLB, ptsGLS, ptsEPO, ptsEPP, ptsER2];

const panelTitles = ["GY", "AD", "PH", "FD1", "FD2",
                     "FD3", "ED", "ER", "EXHL", "EXHL",
                     "GY", "AD", "ASI", "PH", "EH",
                     "TLB", "GLS", "EPO", "EPP", "ER"];

const rLabels = ["r=0.33**", "r=0.96**", "r=0.71**", "r=0.92**", "r=0.45**",
                 "r=0.91**", "r=0.63**", "r=0.80**", "r=0.86**", "r=0.95**",
                 "r=0.68**", "r=0.90**", "r=0.84**", "r=0.75**", "r=0.66**",
                 "r=0.93**", "r=0.98**", "r=0.83**", "r=0.56**", "r=0.62**"];

const xLims = [[1.704, 4.394], [57.47, 64.64], [193.7, 281.4], [2.574, 3.047], [3.746, 4.166],
               [5.534, 6.216], [1.922, 4.082], [10.05, 36.02], [0.344, 1.856], [0.80, 6.19],
               [-0.15, 7.38], [67.53, 81.10], [-0.458, 3.276], [134.4, 224.6], [50.5, 96.6],
               [1.89, 5.13], [2.456, 3.542], [0.3151, 0.4554], [0.8948, 1.0456], [1.78, 11.32]];
const yLims = [[2.557, 4.253], [57.72, 64.54], [210.5, 268.4], [2.573, 3.049], [3.8312, 4.0587],
               [5.567, 6.174], [1.916, 4.084], [10.05, 36.0], [0.341, 1.858], [0.77, 6.73],
               [1.90, 6.46], [69.00, 79.56], [-0.404, 3.076], [164.9, 216.4], [60.9, 86.6],
               [1.88, 5.12], [2.455, 3.543], [0.3360, 0.4442], [0.9160, 1.0242], [1.95, 8.34]];

// tick positions, and the labels R printed (some ticks stay unlabelled)
const xTicks = [[2, 2.5, 3, 3.5, 4], [58, 59, 60, 61, 62, 63, 64], [200, 220, 240, 260, 280], [2.6, 2.7, 2.8, 2.9, 3.0], [3.8, 3.9, 4.0, 4.1],
                [5.6, 5.7, 5.8, 5.9, 6.0, 6.1, 6.2], [2, 2.5, 3, 3.5, 4], [15, 20, 25, 30, 35], [0.4, 0.6, 0.8, 1.0, 1.2, 1.4, 1.6, 1.8], [1, 2, 3, 4, 5, 6],
                [0, 1, 2, 3, 4, 5, 6, 7], [68, 70, 72, 74, 76, 78, 80], [0, 0.5, 1, 1.5, 2, 2.5, 3], [140, 160, 180, 200, 220], [60, 70, 80, 90],
                [2, 2.5, 3, 3.5, 4, 4.5, 5], [2.6, 2.8, 3.0, 3.2, 3.4], [0.32, 0.33, 0.34, 0.35, 0.36, 0.37, 0.38, 0.39, 0.40, 0.41, 0.42, 0.43, 0.44, 0.45], [0.90, 0.91, 0.92, 0.93, 0.94, 0.95, 0.96, 0.97, 0.98, 0.99, 1.00, 1.01, 1.02, 1.03, 1.04], [2, 4, 6, 8, 10]];
const xTickText = [["2.0", "2.5", "3.0", "3.5", "4.0"], ["58", "59", "60", "61", "62", "63", "64"], ["200", "220", "240", "260", "280"], ["2.6", "2.7", "2.8", "2.9", "3.0"], ["3.8", "3.9", "4.0", "4.1"],
                   ["5.6", "5.8", "6.0", "6.2"], ["2.0", "2.5", "3.0", "3.5", "4.0"], ["15", "20", "25", "30", "35"], ["0.4", "0.8", "1.2", "1.6"], ["1", "2", "3", "4", "5", "6"],
                   ["0", "1", "2", "3", "4", "5", "6", "7"], ["68", "70", "72", "74", "76", "78", "80"], ["0.0", "1.0", "2.0", "3.0"], ["140", "160", "180", "200", "220"], ["60", "70", "80", "90"],
                   ["2.0", "3.0", "4.0", "5.0"], ["2.6", "2.8", "3.0", "3.2", "3.4"], ["0.32", "0.36", "0.40", "0.44"], ["0.90", "0.94", "0.98", "1.02"], ["2", "4", "6", "8", "10"]];
const yTicks = [[3.0, 3.5, 4.0], [58, 59, 60, 61, 62, 63, 64], [220, 230, 240, 250, 260], [2.6, 2.7, 2.8, 2.9, 3.0], [3.85, 3.90, 3.95, 4.00, 4.05],
                [5.6, 5.7, 5.8, 5.9, 6.0, 6.1], [2.0, 2.5, 3.0, 3.5, 4.0], [15, 20, 25, 30, 35], [0.4, 0.6, 0.8, 1.0, 1.2, 1.4, 1.6, 1.8], [1, 2, 3, 4, 5, 6],
                [2, 3, 4, 5, 6], [70, 72, 74, 76, 78], [0, 0.5, 1.0, 1.5, 2.0, 2.5, 3.0], [170, 180, 190, 200, 210], [65, 70, 75, 80, 85],
                [2.0, 2.5, 3.0, 3.5, 4.0, 4.5, 5.0], [2.6, 2.8, 3.0, 3.2, 3.4], [0.34, 0.36, 0.38, 0.40, 0.42, 0.44], [0.92, 0.94, 0.96, 0.98, 1.00, 1.02], [2, 3, 4, 5, 6, 7, 8]];
const yTickText = [["3.0", "3.5", "4.0"], ["58", "59", "60", "61", "62", "63", "64"], ["220", "230", "240", "250", "260"], ["2.6", "2.7", "2.8", "2.9", "3.0"], ["3.85", "3.90", "3.95", "4.00", "4.05"],
                   ["5.6", "5.7", "5.8", "5.9", "6.0", "6.1"], ["2.0", "2.5", "3.0", "3.5", "4.0"], ["15", "20", "25", "30", "35"], ["0.4", "0.8", "1.2", "1.6"], ["1", "2", "3", "4", "5", "6"],
                   ["2", "3", "4", "5", "6"], ["70", "72", "74", "76", "78"], ["0.0", "0.5", "1.0", "1.5", "2.0", "2.5", "3.0"], ["170", "180", "190", "200", "210"], ["65", "70", "75", "80", "85"],
                   ["2.0", "2.5", "3.0", "3.5", "4.0", "4.5", "5.0"], ["2.6", "2.8", "3.0", "3.2", "3.4"], ["0.34", "0.36", "0.38", "0.40", "0.42", "0.44"], ["0.92", "0.94", "0.96", "0.98", "1.00", "1.02"], ["2", "3", "4", "5", "6", "7", "8"]];

// ---- layout (pixels) ----
const colLeft = [200, 1018, 1812, 2632, 3420];
const colWidth = [664, 664, 664, 664, 662];
const rowTop = [84, 1026, 1988, 2944];
const rowHeight = 754;
// legend box offset from each panel's top-left corner
const legendOffset = [[24, 22], [3, 6], [9, 45], [36, 77], [12, 27],
                      [16, 27], [24, 29], [24, 29], [25, 29], [24, 32],
                      [11, 9], [21, 38], [13, 17], [40, 21], [21, 18],
                      [23, 28], [27, 29], [24, 28], [25, 28], [16, 40]];
const rowFill = ["#00FF00", "#00FF00", "#87CEEB", "#87CEEB"];

const svg = d3.select("#chart");
svg.append("rect").attr("width", 4094).attr("height", 3873).attr("fill", "#fff");

const labelFor = (texts, v) => {
    const t = texts.find(s => Math.abs(+s - v) < 1e-9);
    return t === undefined ? "" : t;
};

panelPoints.forEach((pts, i) => {
    const row = Math.floor(i / 5), col = i % 5;
    const w = colWidth[col], h = rowHeight;
    const g = svg.append("g")
        .attr("transform", `translate(${colLeft[col]},${rowTop[row]})`);

    const x = d3.scaleLinear().domain(xLims[i]).range([0, w]);
    const y = d3.scaleLinear().domain(yLims[i]).range([h, 0]);

    // clip like R's plot region
    svg.append("clipPath").attr("id", `clip${i}`)
        .append("rect").attr("width", w).attr("height", h);

    g.append("g")
        .attr("clip-path", `url(#clip${i})`)
        .selectAll("circle")
        .data(pts)
        .join("circle")
        .attr("cx", d => x(d[0]))
        .attr("cy", d => y(d[1]))
        .attr("r", 15.5)
        .attr("fill", rowFill[row])
        .attr("stroke", "#000")
        .attr("stroke-width", 3);

    // x axis
    const xAxisG = g.append("g")
        .attr("transform", `translate(0,${h})`)
        .call(d3.axisBottom(x)
            .tickValues(xTicks[i])
            .tickSize(27)
            .tickFormat(v => labelFor(xTickText[i], v)));
    xAxisG.select(".domain").remove();
    xAxisG.selectAll("line").attr("stroke", "#000").attr("stroke-width", 3);
    xAxisG.selectAll("text")
        .attr("y", 100).attr("dy", 0)
        .attr("fill", "#000")
        .style("font-size", "43px")
        .style("font-family", "'Liberation Sans', Arial, sans-serif");

    // y axis, labels turned like R's las=0
    const yAxisG = g.append("g")
        .call(d3.axisLeft(y)
            .tickValues(yTicks[i])
            .tickSize(27)
            .tickFormat(v => labelFor(yTickText[i], v)));
    yAxisG.select(".domain").remove();
    yAxisG.selectAll("line").attr("stroke", "#000").attr("stroke-width", 3);
    yAxisG.selectAll("text")
        .attr("x", 0).attr("y", 0)
        .attr("dy", "0.36em")
        .attr("transform", "translate(-78,0) rotate(-90)")
        .attr("text-anchor", "middle")
        .attr("fill", "#000")
        .style("font-size", "43px")
        .style("font-family", "'Liberation Sans', Arial, sans-serif");

    // box
    g.append("rect")
        .attr("width", w).attr("height", h)
        .attr("fill", "none")
        .attr("stroke", "#000")
        .attr("stroke-width", 8);

    // title
    g.append("text")
        .attr("x", w / 2).attr("y", -36)
        .attr("text-anchor", "middle")
        .style("font-size", "50px")
        .style("font-weight", "bold")
        .text(panelTitles[i]);

    // r legend
    const [lx, ly] = legendOffset[i];
    const lg = g.append("g").attr("transform", `translate(${lx},${ly})`);
    lg.append("rect")
        .attr("width", 273).attr("height", 110)
        .attr("fill", "#fff")
        .attr("stroke", "#000")
        .attr("stroke-width", 4);
    lg.append("text")
        .attr("x", 249).attr("y", 72)
        .attr("text-anchor", "end")
        .style("font-size", "44px")
        .text(rLabels[i]);

    if (col === 0) {
        g.append("text")
            .attr("transform", `translate(-151,${h / 2}) rotate(-90)`)
            .attr("text-anchor", "middle")
            .style("font-size", "45px")
            .text("GCA Predicted hybrid performance");
    }
    if (row === 3) {
        g.append("text")
            .attr("x", w / 2).attr("y", h + 165)
            .attr("text-anchor", "middle")
            .style("font-size", "44px")
            .text("Observed hybrid performance");
    }
});
</script>
</body>
</html>
